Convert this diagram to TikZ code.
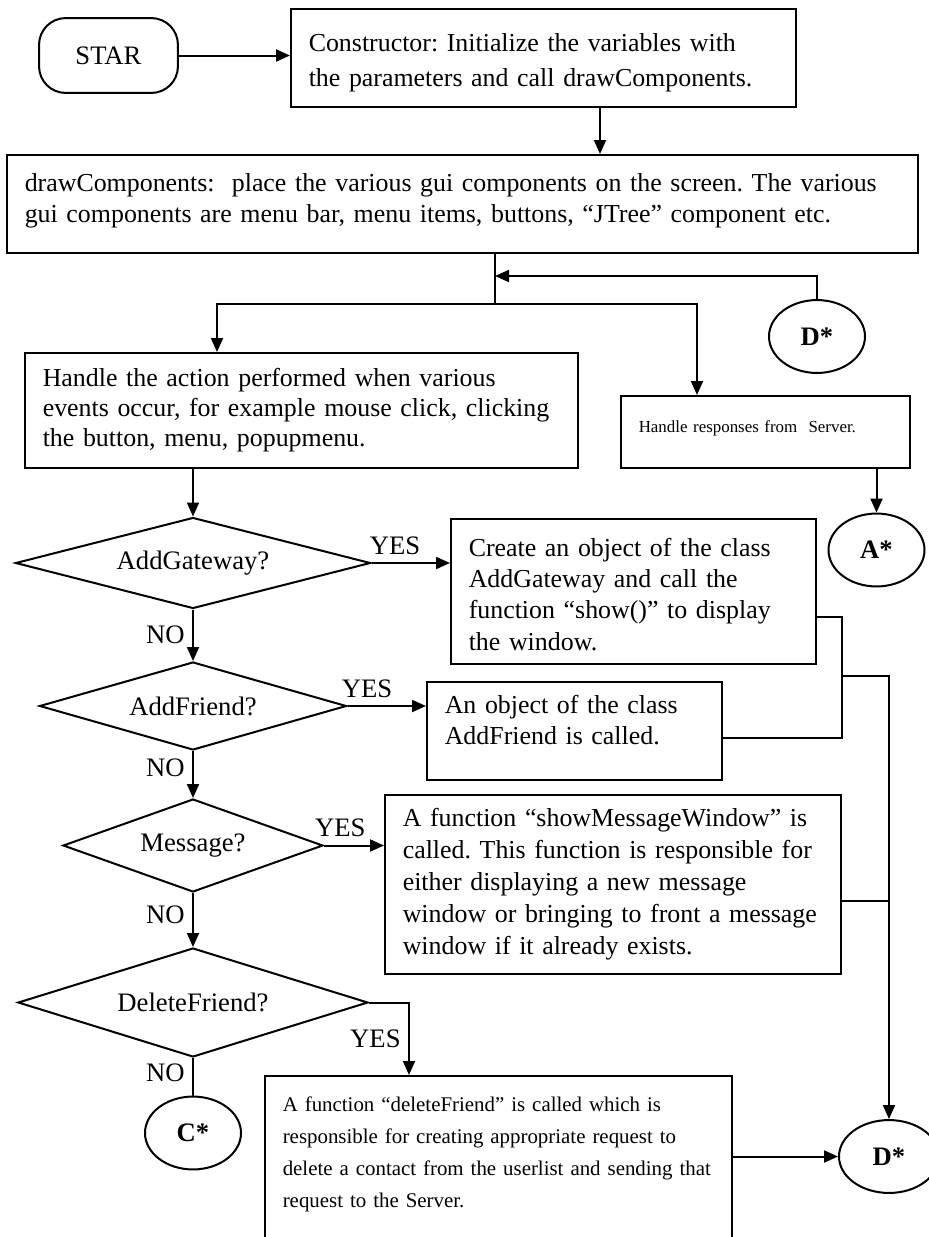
\documentclass[tikz,border=0pt]{standalone}
\usepackage{fontspec}
\setmainfont{Liberation Serif}
\usetikzlibrary{arrows.meta,shapes.geometric}
\frenchspacing
\begin{document}
\begin{tikzpicture}[x=0.45pt, y=-0.45pt, line width=0.9pt,
  font=\fontsize{12pt}{14.2pt}\selectfont,
  >={Triangle[length=6.3pt,width=5.4pt]},
  box/.style={draw, rectangle, inner xsep=8pt, inner ysep=2pt, align=left,
    font=\fontsize{11.65pt}{14pt}\selectfont},
  decision/.style={draw, diamond, aspect=4, inner sep=0pt},
  conn/.style={draw, ellipse, inner sep=0pt, minimum width=43.2pt, minimum height=32.8pt,
    font=\fontsize{12pt}{14pt}\selectfont\bfseries},
  term/.style={draw, rounded corners=12pt, minimum width=62.5pt, minimum height=33.7pt}]
\useasboundingbox (0,0) rectangle (928,1237);

\node[term] (P_star) at (108.5,55.5) {STAR};
\node[box, minimum width=227.25pt, text width=211.25pt, minimum height=44.1pt, text depth=13.5pt,
  font=\fontsize{11.65pt}{15.5pt}\selectfont] (P_ctor) at (543.5,58)
  {Constructor: Initialize the variables with\\the parameters and call drawComponents.};
\node[box, minimum width=409.95pt, text width=393.95pt, minimum height=44.1pt, text depth=19pt] (P_draw) at (462.5,204)
  {drawComponents:\ \ place the various gui components on the screen. The various\\gui components are menu bar, menu items, buttons, ``JTree'' component etc.};
\node[box, minimum width=248.85pt, text width=232.85pt, minimum height=51.75pt,
  font=\fontsize{11.65pt}{13.5pt}\selectfont] (P_act) at (301.5,410.5)
  {Handle the action performed when various\\events occur, for example mouse click, clicking\\the button, menu, popupmenu.};
\node[box, minimum width=130.05pt, text width=114.05pt, minimum height=32.4pt, text depth=5pt,
  font=\fontsize{7.6pt}{9.5pt}\selectfont] (P_resp) at (765.5,432) {Handle responses from\ \ Server.};
\node[conn] (P_Dtop) at (817,336.5) {D*};
\node[conn] (P_A) at (876.5,550) {A*};

\node[decision, minimum width=159.75pt, minimum height=40.95pt] (P_gw) at (193,563) {AddGateway?};
\node[box, minimum width=164.25pt, text width=148.25pt, minimum height=65.25pt, text depth=39.5pt] (P_gwbox) at (633.5,591.5)
  {Create an object of the class\\AddGateway and call the\\function ``show()'' to display\\the window.};
\node[decision, minimum width=138.15pt, minimum height=39.6pt] (P_fr) at (193,706) {AddFriend?};
\node[box, minimum width=132.75pt, text width=116.75pt, minimum height=44.1pt, text depth=24.4pt] (P_frbox) at (574.5,731)
  {An object of the class\\AddFriend is called.};
\node[decision, minimum width=117pt, minimum height=41.85pt] (P_msg) at (193,845.5) {Message?};
\node[box, minimum width=205.2pt, text width=189.2pt, minimum height=80.55pt,
  font=\fontsize{11.65pt}{14.4pt}\selectfont] (P_msgbox) at (613,884.5)
  {A function ``showMessageWindow'' is\\called. This function is responsible for\\either displaying a new message\\window or bringing to front a message\\window if it already exists.};
\node[decision, minimum width=157.5pt, minimum height=49.05pt] (P_del) at (193,1002.5) {DeleteFriend?};
\node[box, minimum width=210.15pt, text width=194.15pt, inner ysep=9.5pt, anchor=north, text depth=60pt,
  font=\fontsize{9.4pt}{14.4pt}\selectfont] (P_delbox) at (498.5,1075)
  {A function ``deleteFriend'' is called which is\\responsible for creating appropriate request to\\delete a contact from the userlist and sending that\\request to the Server.};
\node[conn] (P_C) at (193,1133) {C*};
\node[conn, minimum width=45pt] (P_Dbot) at (889,1156.5) {D*};

\coordinate (P_down) at (600,0);
\coordinate (P_split) at (495,304);
\coordinate (P_left) at (217,304);
\coordinate (P_right) at (697,304);
\coordinate (P_back) at (495,276);
\coordinate (P_yes) at (409,0);
\coordinate (P_merge) at (842,676);

\draw[->] (P_star.east) -- (P_star.east -| P_ctor.west);
\draw[->] (P_ctor.south -| P_down) -- (P_draw.north -| P_down);
\draw (P_draw.south -| P_split) -- (P_split);
\draw[->] (P_split) -- (P_left) -- (P_left |- P_act.north);
\draw[->] (P_split) -- (P_right) -- (P_right |- P_resp.north);
\draw[->] (P_Dtop.north) |- (P_back);
\draw[->] (P_resp.south -| P_A.north) -- (P_A.north);
\draw[->] (P_act.south -| P_gw.north) -- (P_gw.north);
\draw[->] (P_gw.east) -- (P_gw.east -| P_gwbox.west) node[pos=0.3, above] {YES};
\draw[->] (P_gw.south) -- (P_fr.north) node[midway, left] {NO};
\draw[->] (P_fr.east) -- (P_fr.east -| P_frbox.west) node[pos=0.25, above] {YES};
\draw[->] (P_fr.south) -- (P_msg.north) node[pos=0.35, left] {NO};
\draw[->] (P_msg.east) -- (P_msg.east -| P_msgbox.west) node[pos=0.27, above] {YES};
\draw[->] (P_msg.south) -- (P_del.north) node[pos=0.4, left] {NO};
\draw[->] (P_del.east) -| (P_delbox.north -| P_yes) node[pos=0.75, left] {YES};
\draw (P_del.south) -- (P_C.north) node[pos=0.4, left] {NO};
\draw ([yshift=-11.5pt]P_gwbox.east) -| (P_merge) |- ([yshift=-3pt]P_frbox.east);
\draw[->] (P_merge) -| (P_Dbot.north);
\draw ([yshift=-7.4pt]P_msgbox.east) -- ([yshift=-7.4pt]P_msgbox.east -| P_Dbot.north);
\draw[->] (P_Dbot.west -| P_delbox.east) -- (P_Dbot.west);
\end{tikzpicture}
\end{document}
